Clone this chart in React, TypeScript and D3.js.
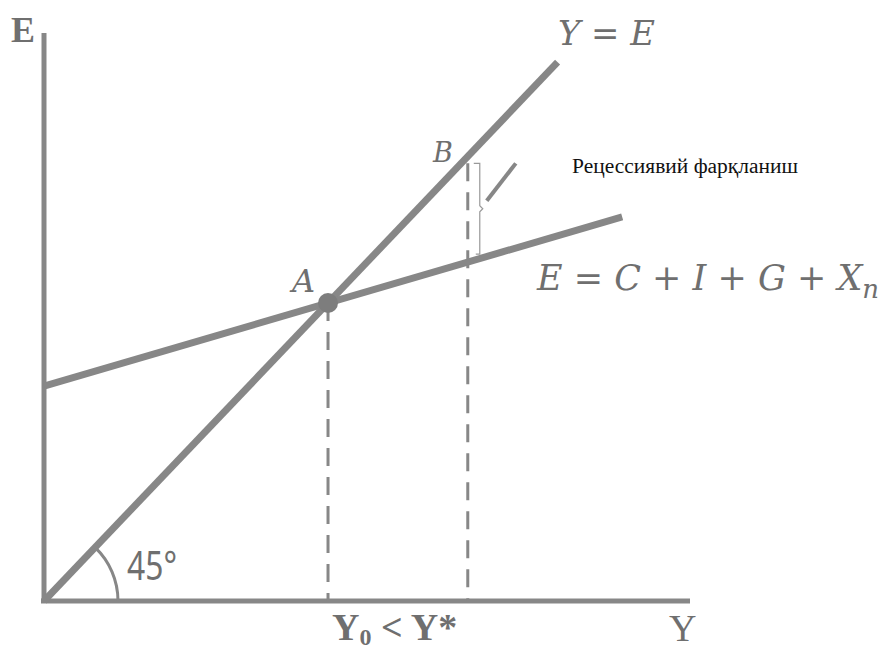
import * as d3 from "d3";

// Keynesian cross: recessionary gap
const yEqualsE: [number, number][] = [[0, 0], [7.95, 7.95]];
const expenditureRange = [0, 8.95];
const autonomousSpending = 3.17;
const mpc = 0.279;
const fullEmploymentY = 6.56;
const axisLabels = ["E", "Y"];
const gapLabel = "Рецессиявий фарқланиш";

const W = 885, H = 653;
const GRAY = "#878787";
const TEXT = "#6f6f6f";

const x = d3.scaleLinear().domain([0, 10]).range([44, 690]);
const y = d3.scaleLinear().domain([0, 8.38]).range([601, 33]);

const agg = (v: number) => autonomousSpending + mpc * v;

const App = () => {
  const line = d3.line<[number, number]>().x(d => x(d[0])).y(d => y(d[1]));
  const eLine: [number, number][] = expenditureRange.map(v => [v, agg(v)]);

  const y0 = autonomousSpending / (1 - mpc);
  const ax = x(y0), ay = y(y0);
  const bx = x(fullEmploymentY), by = y(fullEmploymentY);
  const eAtStar = y(agg(fullEmploymentY));

  // 45° marker arc around origin
  const slopeAngle = Math.atan2(y(0) - y(1), x(1) - x(0));
  const arc = d3.arc()({
    innerRadius: 74, outerRadius: 74,
    startAngle: Math.PI / 2 - slopeAngle, endAngle: Math.PI / 2,
  } as any);

  const braceX = bx + 12;
  const braceTop = by + 7;
  const braceBot = eAtStar - 8;
  const braceMid = (braceTop + braceBot) / 2;

  return (
    <svg width={W} height={H} style={{ position: "absolute", left: 0, top: 0, background: "#fff" }}>
      {/* axes */}
      <line x1={x(0)} y1={y(0)} x2={x(0)} y2={y.range()[1]} stroke={GRAY} strokeWidth={5} />
      <line x1={x(0) - 3} y1={y(0)} x2={x.range()[1]} y2={y(0)} stroke={GRAY} strokeWidth={5} />

      {/* dashed guides */}
      <line x1={ax} y1={ay} x2={ax} y2={y(0)} stroke={GRAY} strokeWidth={3} strokeDasharray="18,11" />
      <line x1={bx} y1={braceTop} x2={bx} y2={y(0)} stroke={GRAY} strokeWidth={3} strokeDasharray="18,11" />

      {/* lines */}
      <path d={line(yEqualsE) ?? ""} fill="none" stroke={GRAY} strokeWidth={7} />
      <path d={line(eLine) ?? ""} fill="none" stroke={GRAY} strokeWidth={7} />
      <circle cx={ax} cy={ay} r={10} fill="#7d7d7d" />

      <path d={arc ?? ""} transform={`translate(${x(0)},${y(0)})`} fill="none" stroke={GRAY} strokeWidth={3} />
      <text x={127} y={580} fontFamily="Noto Sans" fontSize={40} fill={TEXT} textLength={50} lengthAdjust="spacingAndGlyphs">45°</text>

      {/* gap brace + pointer */}
      <path
        d={`M${braceX - 6},${braceTop} L${braceX},${braceTop} L${braceX},${braceMid - 3} L${braceX + 3},${braceMid} L${braceX},${braceMid + 3} L${braceX},${braceBot} L${braceX - 4},${braceBot}`}
        fill="none" stroke="#999" strokeWidth={1.2}
      />
      <line x1={braceX + 7} y1={braceMid - 8} x2={braceX + 36} y2={braceTop} stroke={GRAY} strokeWidth={4} />
      <text x={572} y={173} fontFamily="Liberation Serif" fontSize={20} fill="#111" textLength={226} lengthAdjust="spacingAndGlyphs">{gapLabel}</text>

      {/* labels */}
      <text x={11} y={42} fontFamily="Liberation Serif" fontWeight="bold" fontSize={36} fill={TEXT}>{axisLabels[0]}</text>
      <text x={558} y={45} fontFamily="DejaVu Serif" fontStyle="italic" fontSize={34} fill={TEXT} textLength={97} lengthAdjust="spacingAndGlyphs">Y = E</text>
      <text x={433} y={162} fontFamily="DejaVu Serif" fontStyle="italic" fontSize={27} fill={TEXT}>B</text>
      <text x={292} y={292} fontFamily="DejaVu Serif" fontStyle="italic" fontSize={32} fill={TEXT}>A</text>
      <text x={537} y={290} fontFamily="DejaVu Serif" fontStyle="italic" fontSize={35} fill={TEXT}>
        E = C + I + G + X<tspan fontSize={26} dy={8}>n</tspan>
      </text>
      <text x={332} y={640} fontFamily="Liberation Serif" fontWeight="bold" fontSize={38} fill={TEXT}>
        Y<tspan fontSize={24} dy={5}>0</tspan><tspan dy={-5}>{"  < Y*"}</tspan>
      </text>
      <text x={669} y={641} fontFamily="Liberation Serif" fontSize={38} fill={TEXT}>{axisLabels[1]}</text>
    </svg>
  );
};

export default App;
